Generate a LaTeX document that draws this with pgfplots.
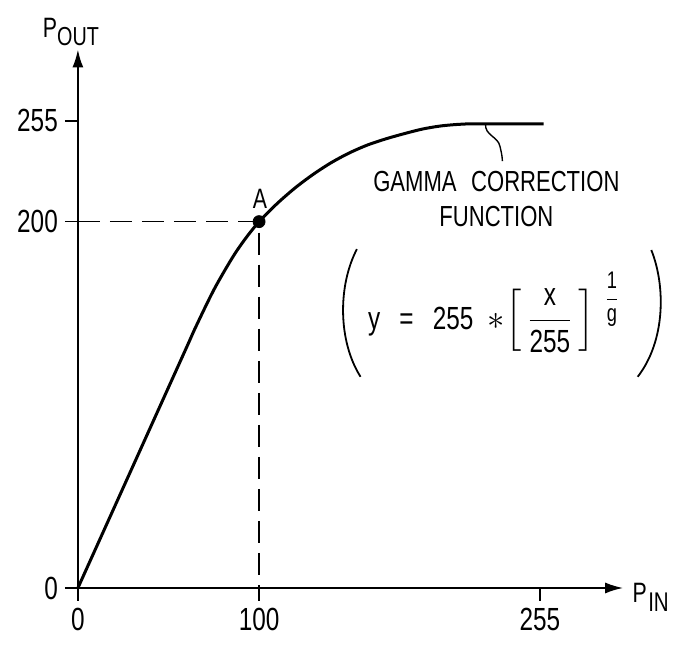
\documentclass[border=0pt]{standalone}
\usepackage{amsmath}
\usepackage{fontspec}
\setmainfont{Liberation Sans}[FakeStretch=0.76]
\usepackage{pgfplots}
\pgfplotsset{compat=1.18}
\usetikzlibrary{arrows.meta}

\begin{document}
\begin{tikzpicture}
  \begin{axis}[
    x=0.905pt, y=0.915pt,
    xmin=0, xmax=301, ymin=0, ymax=294,
    axis lines=left,
    axis line style={line width=1pt, -{Latex[length=9pt,width=5.5pt]}},
    xtick={0,100,255}, ytick={0,200,255},
    tick align=outside,
    major tick length=6.5pt,
    tick style={line width=0.8pt, black},
    ticklabel style={font=\fontsize{16}{18}\selectfont},
    /pgf/number format/assume math mode=true,
    clip=false,
  ]
    % page frame, same proportions as the reference
    \path (axis cs:-43,321) rectangle (axis cs:334,-32);

    % gamma curve
    \addplot[line width=1.5pt, smooth, tension=0.5] coordinates {
      (0,0)(20,43.8)(40,87.6)(60,131.4)(65,142.4)(75,162.7)(85,179.9)
      (92,190.1)(100,200)(110,209.9)(120,218.5)(130,225.9)(140,232.3)
      (150,237.6)(160,241.9)(170,245.2)(180,248)(190,250.5)(200,252.2)
      (210,253.1)(220,253.4)(257,253.4)
    };
    % guide lines to point A
    \addplot[line width=0.8pt, dash pattern=on 11pt off 5pt] coordinates {
      (0,200)(100,200)(100,0)
    };
    \addplot[only marks, mark=*, mark size=3pt] coordinates {(100,200)};

    \node[anchor=south, inner sep=0pt, yshift=6.5pt, font=\fontsize{14}{16}\selectfont]
      at (axis cs:100.5,200) {A};

    % axis names
    \node[anchor=base west, inner sep=0pt, font=\fontsize{14}{16}\selectfont]
      at (axis cs:-19.5,300.5) {P\raisebox{-0.3em}{\fontsize{13}{15}\selectfont OUT}};
    \node[anchor=base west, inner sep=0pt, font=\fontsize{14}{16}\selectfont]
      at (axis cs:306,-8.2) {P\hspace{0.05em}\raisebox{-0.3em}{\fontsize{13.5}{15}\selectfont IN}};

    % annotation
    \draw[line width=0.7pt] (axis cs:225,253.4) .. controls (axis cs:224.5,247) and (axis cs:232,246.5)
      .. (axis cs:233,241) .. controls (axis cs:233.8,237.5) and (axis cs:234.2,236) .. (axis cs:234.3,233);
    \node[align=center, font=\fontsize{14.5}{17.5}\selectfont]
      at (axis cs:231,212.6) {GAMMA\hspace{0.5em}CORRECTION\\FUNCTION};

    \node[font=\fontsize{16}{19}\selectfont] at (axis cs:229.5,150.3)
      {y\hspace{0.6em}=\hspace{0.6em}255\hspace{0.45em}$\ast\!\left[\,\dfrac{\text{x}}{\text{255}}\,\right]$\hspace{0.3em}\raisebox{0.75em}{\fontsize{12}{13}\selectfont$\dfrac{\text{1}}{\text{g}}$}};
    \draw[line width=0.9pt] (axis cs:154,185) .. controls (axis cs:143.5,165) and (axis cs:143.5,135) .. (axis cs:156,115.3);
    \draw[line width=0.9pt] (axis cs:316.5,184.5) .. controls (axis cs:324.4,165) and (axis cs:324.4,135) .. (axis cs:309,115.3);
  \end{axis}
\end{tikzpicture}
\end{document}
